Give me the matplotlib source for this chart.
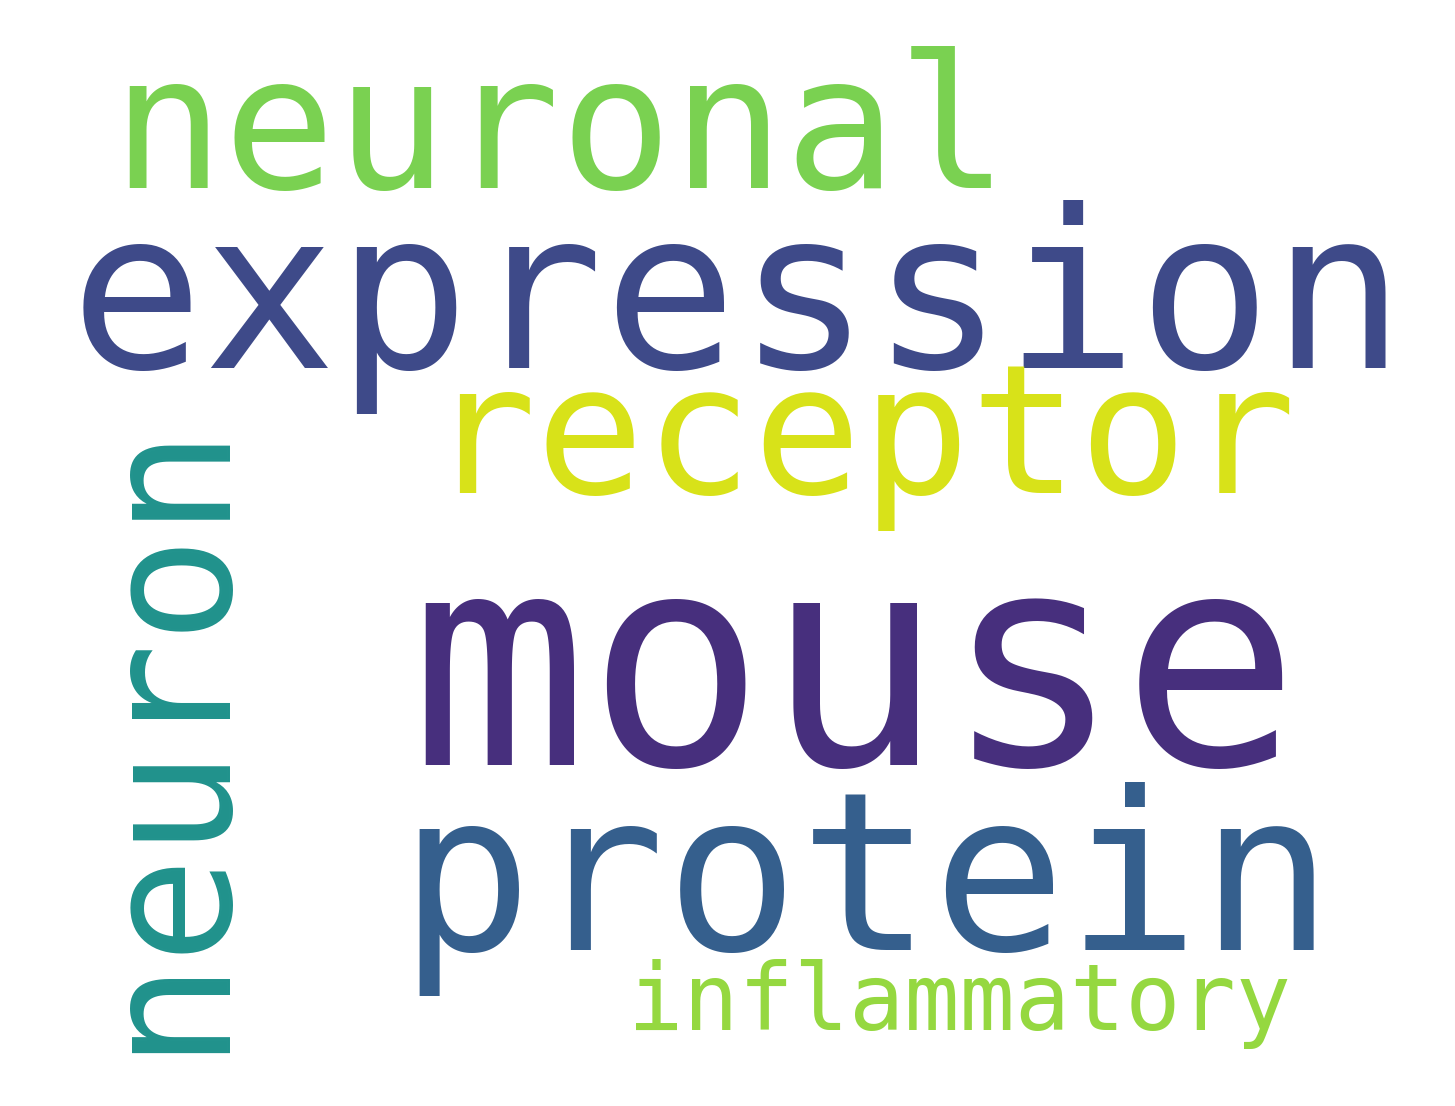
import matplotlib
matplotlib.use("Agg")
import matplotlib.pyplot as plt

words = ["mouse", "expression", "protein", "neuronal", "receptor", "neuron", "inflammatory"]
weights = [1.0, 0.75, 0.75, 0.63, 0.61, 0.60, 0.31]
colors = ["#472f7d", "#3e4a89", "#355f8d", "#7ad151", "#d8e219", "#20928c", "#95d840"]
# layout (pixel positions of baseline centre), rotation
xs = [855, 738, 866, 560, 862, 214, 960]
ys = [765, 368, 950, 188, 493, 732, 1030]
rots = [0, 0, 0, 0, 0, 90, 0]

fig = plt.figure(figsize=(14.55, 11.06), dpi=100)
ax = fig.add_axes([0, 0, 1, 1])
ax.set_xlim(0, 1455)
ax.set_ylim(1106, 0)
ax.axis("off")
base = 213
for w, s, c, x, y, r in zip(words, weights, colors, xs, ys, rots):
    ax.text(x, y, w, fontsize=base * s, color=c, family="DejaVu Sans Mono",
            ha="center", va="baseline", rotation=r, rotation_mode="anchor")
fig.savefig("out.png", dpi=100, facecolor="white")
